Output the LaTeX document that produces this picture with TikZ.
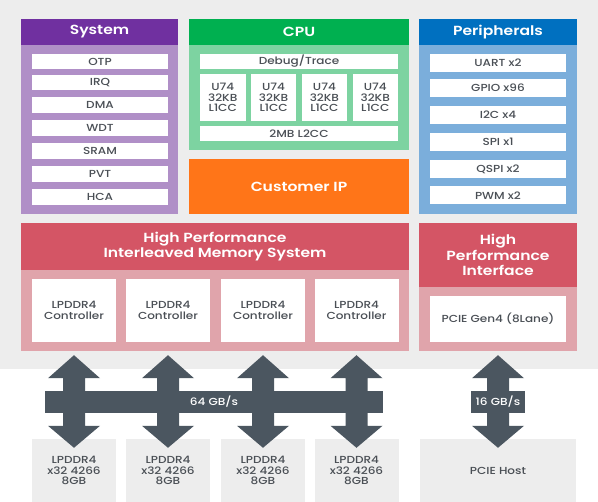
\documentclass[tikz,border=0pt]{standalone}
\usepackage{fontspec}
\setmainfont{Poppins}[FakeStretch=1.18, UprightFont={* Medium}, BoldFont={* SemiBold}]
\usetikzlibrary{calc}

\definecolor{bgray}{HTML}{EDEDED}
\definecolor{txt}{HTML}{4A4F55}
\definecolor{busc}{HTML}{4B5660}
\definecolor{syshead}{HTML}{7030A0}
\definecolor{sysbody}{HTML}{B08FC7}
\definecolor{cpuhead}{HTML}{00B050}
\definecolor{cpubody}{HTML}{7DD3A1}
\definecolor{perhead}{HTML}{0070C0}
\definecolor{perbody}{HTML}{7BAEDB}
\definecolor{memhead}{HTML}{D45565}
\definecolor{membody}{HTML}{E0A4AB}
\definecolor{custip}{HTML}{FF7518}

\newcommand\boxfont{\fontsize{10.2}{10.7}\selectfont}
\newcommand\titlefont{\bfseries\fontsize{13.2}{15.5}\selectfont}

\begin{document}
\begin{tikzpicture}[x=1pt, y=-1pt,
            every node/.style={rectangle, inner sep=0pt, align=center, text=txt},
            panel/.style={fill=#1},
            head/.style={fill=#1, text=white, font=\titlefont, anchor=north},
            item/.style={fill=white, font=\boxfont},
            ext/.style={fill=bgray, font=\boxfont},
            bus/.style={fill=busc},
            rate/.style={fill=busc, text=white, font=\boxfont, minimum height=22}]
        \useasboundingbox (0,0) rectangle (598,502);
        \fill[bgray] (0,0) rectangle (598,369);

        % system
        \node[panel=sysbody, minimum width=157, minimum height=195] (sys) at (99.5,116.5) {};
        \node[head=syshead, minimum width=157, minimum height=26] (syst) at (sys.north) {System};
        \node[item, minimum width=136, minimum height=15.5] (otp) at (100,61.5) {OTP};
        \node[item, minimum width=136, minimum height=15.5] (irq) at (100,82.5) {IRQ};
        \node[item, minimum width=136, minimum height=15.5] (dma) at (100,105) {DMA};
        \node[item, minimum width=136, minimum height=15.5] (wdt) at (100,128) {WDT};
        \node[item, minimum width=136, minimum height=15.5] (sram) at (100,151) {SRAM};
        \node[item, minimum width=136, minimum height=15.5] (pvt) at (100,174) {PVT};
        \node[item, minimum width=136, minimum height=15.5] (hca) at (100,197) {HCA};

        % cpu
        \node[panel=cpubody, minimum width=220, minimum height=131] (cpu) at (299,84.5) {};
        \node[head=cpuhead, minimum width=220, minimum height=26] (cput) at (cpu.north) {CPU};
        \node[item, minimum width=198, minimum height=15] (dbg) at (299,61.5) {Debug/Trace};
        \node[item, minimum width=45.5, minimum height=47] (u1) at (222.75,97.5) {U74\\32KB\\L1CC};
        \node[item, minimum width=45.5, minimum height=47] (u2) at (273.6,97.5) {U74\\32KB\\L1CC};
        \node[item, minimum width=45.5, minimum height=47] (u3) at (324.4,97.5) {U74\\32KB\\L1CC};
        \node[item, minimum width=45.5, minimum height=47] (u4) at (375.25,97.5) {U74\\32KB\\L1CC};
        \node[item, minimum width=198, minimum height=15] (l2) at (299,133.5) {2MB L2CC};
        \node[fill=custip, text=white, font=\titlefont, minimum width=220, minimum height=55] (cip) at (299,186.5) {Customer IP};

        % peripherals
        \node[panel=perbody, minimum width=158, minimum height=195] (per) at (498,116.5) {};
        \node[head=perhead, minimum width=158, minimum height=26] (pert) at (per.north) {Peripherals};
        \node[item, minimum width=136, minimum height=18] (uart) at (498,63) {UART x2};
        \node[item, minimum width=136, minimum height=18] (gpio) at (498,88) {GPIO x96};
        \node[item, minimum width=136, minimum height=18] (iic) at (498,115) {I2C x4};
        \node[item, minimum width=136, minimum height=18] (spi) at (498,142) {SPI x1};
        \node[item, minimum width=136, minimum height=18] (qspi) at (498,169) {QSPI x2};
        \node[item, minimum width=136, minimum height=18] (pwm) at (498,195.5) {PWM x2};

        % memory and interface
        \node[panel=membody, minimum width=388, minimum height=128] (mem) at (215,287) {};
        \node[head=memhead, minimum width=388, minimum height=47] (memt) at (mem.north) {High Performance\\Interleaved Memory System};
        \node[item, minimum width=84, minimum height=63] (c1) at (74,310.5) {LPDDR4\\Controller};
        \node[item, minimum width=84, minimum height=63] (c2) at (168,310.5) {LPDDR4\\Controller};
        \node[item, minimum width=84, minimum height=63] (c3) at (263,310.5) {LPDDR4\\Controller};
        \node[item, minimum width=84, minimum height=63] (c4) at (356.5,310.5) {LPDDR4\\Controller};
        \node[panel=membody, minimum width=158, minimum height=128] (hpi) at (498,287) {};
        \node[head=memhead, minimum width=158, minimum height=64] (hpit) at (hpi.north) {High\\Performance\\Interface};
        \node[item, minimum width=136, minimum height=46] (pg) at (498,319) {PCIE Gen4 (8Lane)};

        % external parts
        \node[ext, minimum width=84, minimum height=63] (m1) at (74,470.5) {LPDDR4\\x32 4266\\8GB};
        \node[ext, minimum width=84, minimum height=63] (m2) at (168,470.5) {LPDDR4\\x32 4266\\8GB};
        \node[ext, minimum width=84, minimum height=63] (m3) at (263,470.5) {LPDDR4\\x32 4266\\8GB};
        \node[ext, minimum width=84, minimum height=63] (m4) at (356.5,470.5) {LPDDR4\\x32 4266\\8GB};
        \node[ext, minimum width=156, minimum height=63] (host) at (498,470.5) {PCIE Host};

        % buses
        \foreach \a/\b in {c1/m1, c2/m2, c3/m3, c4/m4, pg/host}
            \fill[bus] ($(\a |- mem.south)+(0,4)$) -- ++(26,23) -- ++(-15,0)
                -- ($(\b.north)+(11,-13)$) -- ++(15,0) -- ($(\b.north)+(0,9)$)
                -- ++(-26,-22) -- ++(15,0) -- ($(\a |- mem.south)+(-11,27)$)
                -- ++(-15,0) -- cycle;
        \node[rate, minimum width=338] (bw) at (214,402) {64 GB/s};
        \node[rate, minimum width=54] (pw) at (498,402) {16 GB/s};
\end{tikzpicture}
\end{document}
